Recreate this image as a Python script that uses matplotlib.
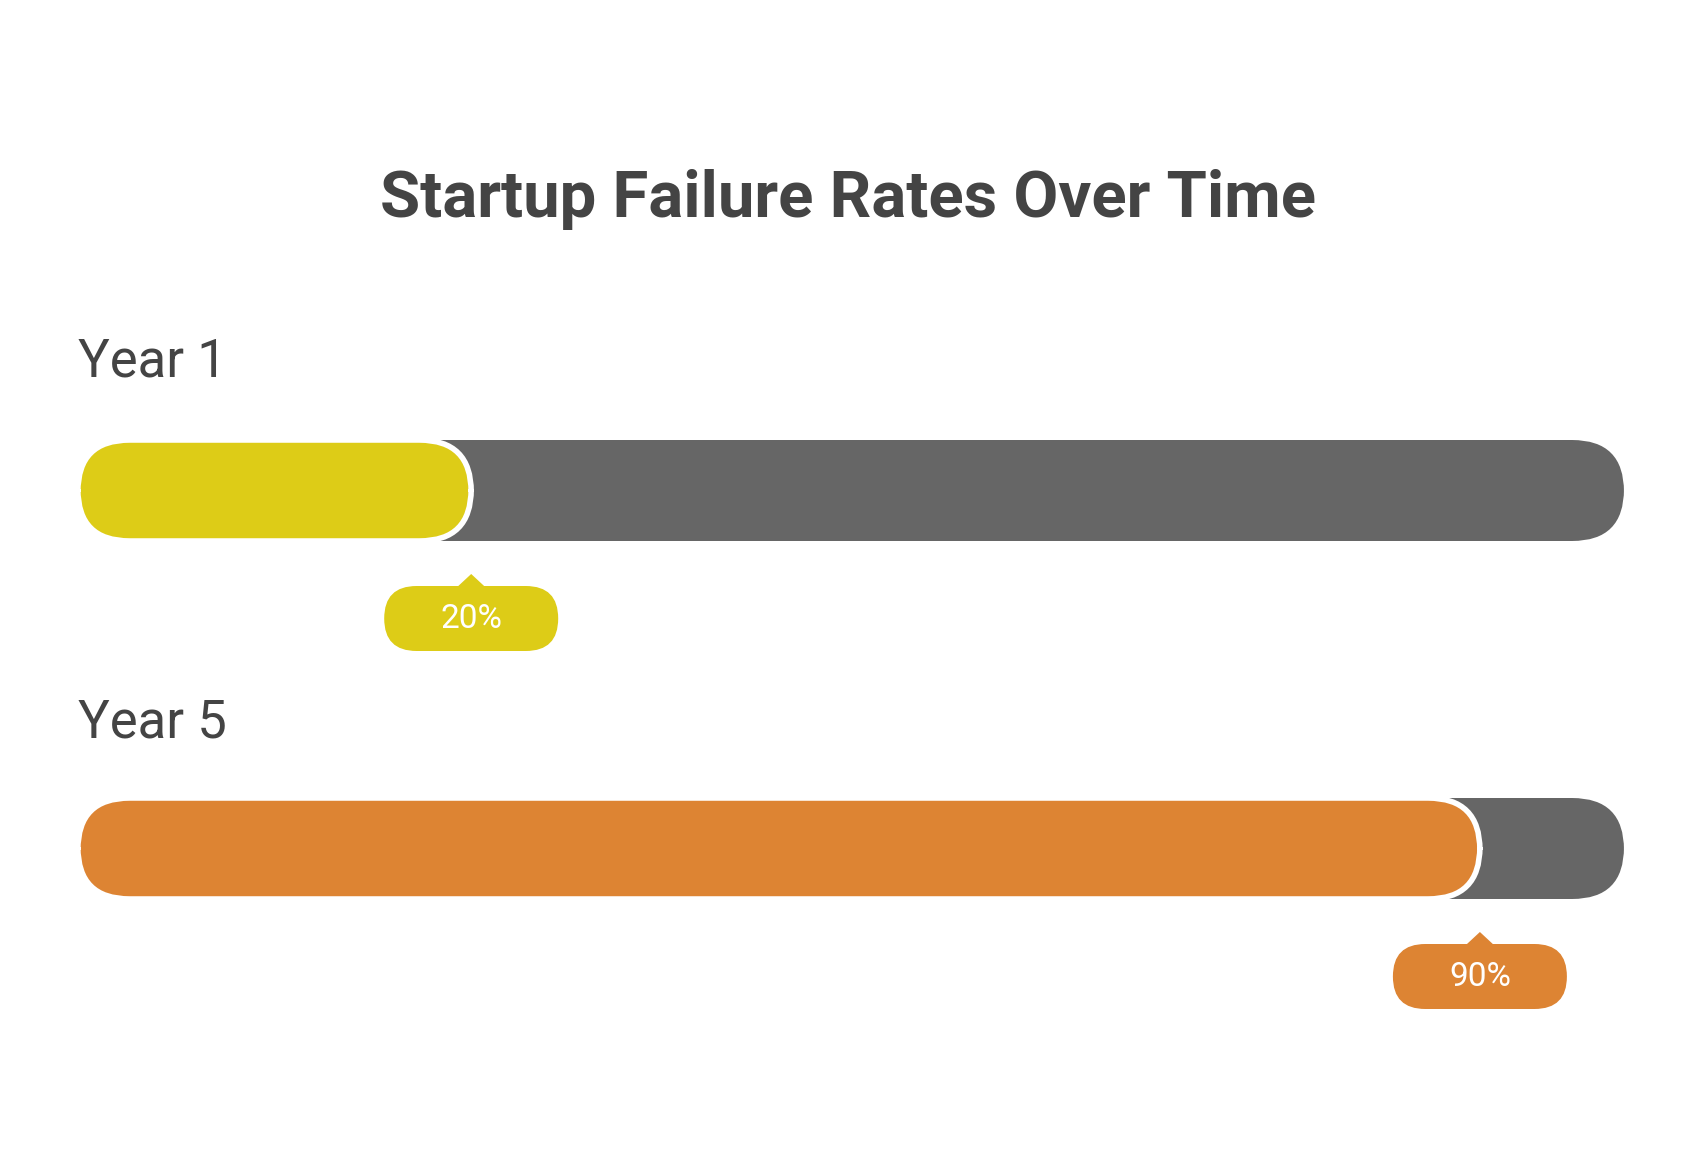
import matplotlib
matplotlib.use("Agg")
import matplotlib.pyplot as plt
from matplotlib.patches import FancyBboxPatch, Polygon

title = "Startup Failure Rates Over Time"
categories = ["Year 1", "Year 5"]
values = [0.20, 0.90]
labels = ["20%", "90%"]
colors = ["#DDCC17", "#DD8433"]
track_color = "#666666"
text_color = "#444444"

W, H = 1695, 1155
fig = plt.figure(figsize=(W/100, H/100), dpi=100)
ax = fig.add_axes([0, 0, 1, 1])
px_per_unit = 1441.0
x0px = 183.0
ax.set_xlim(-x0px/px_per_unit, (W - x0px)/px_per_unit)
ax.set_ylim(H, 0)
ax.axis("off")
asp = px_per_unit  # vertical px per horizontal data unit

start = -0.073
bar_h = 101
rad = 0.036
ax.text(0.5, 199, title, transform=ax.get_yaxis_transform() if False else None) if False else None
fig.text(0.5, 1 - 199/H, title, ha="center", va="center", fontsize=47,
         fontweight="bold", color=text_color, family="Roboto")

label_y = [362, 723]
bar_top = [440, 798]
for i, (cat, v, lab, c) in enumerate(zip(categories, values, labels, colors)):
    ax.text(start, label_y[i], cat, ha="left", va="center", fontsize=38,
            color=text_color, family="Roboto")
    t = bar_top[i]
    ax.add_patch(FancyBboxPatch((start, t), 1.0 - start, bar_h,
                 boxstyle=f"round,pad=0,rounding_size={rad}", mutation_aspect=asp,
                 fc=track_color, ec="none", zorder=1))
    ax.add_patch(FancyBboxPatch((start, t), v - start, bar_h,
                 boxstyle=f"round,pad=0,rounding_size={rad}", mutation_aspect=asp,
                 fc=c, ec="white", lw=4, zorder=2))
    # pill label
    pw = 174/px_per_unit
    ptop = t + bar_h + 45
    ph = 65
    ax.add_patch(FancyBboxPatch((v - pw/2, ptop), pw, ph,
                 boxstyle=f"round,pad=0,rounding_size={0.0225}", mutation_aspect=asp,
                 fc=c, ec="none", zorder=2))
    tw = 14/px_per_unit
    ax.add_patch(Polygon([(v - tw, ptop + 1), (v, ptop - 12), (v + tw, ptop + 1)],
                 closed=True, fc=c, ec="none", zorder=2))
    ax.text(v, ptop + ph/2 + 1, lab, ha="center", va="center", fontsize=24,
            color="white", family="Roboto", zorder=3)

fig.savefig("out.png", dpi=100, facecolor="white")
